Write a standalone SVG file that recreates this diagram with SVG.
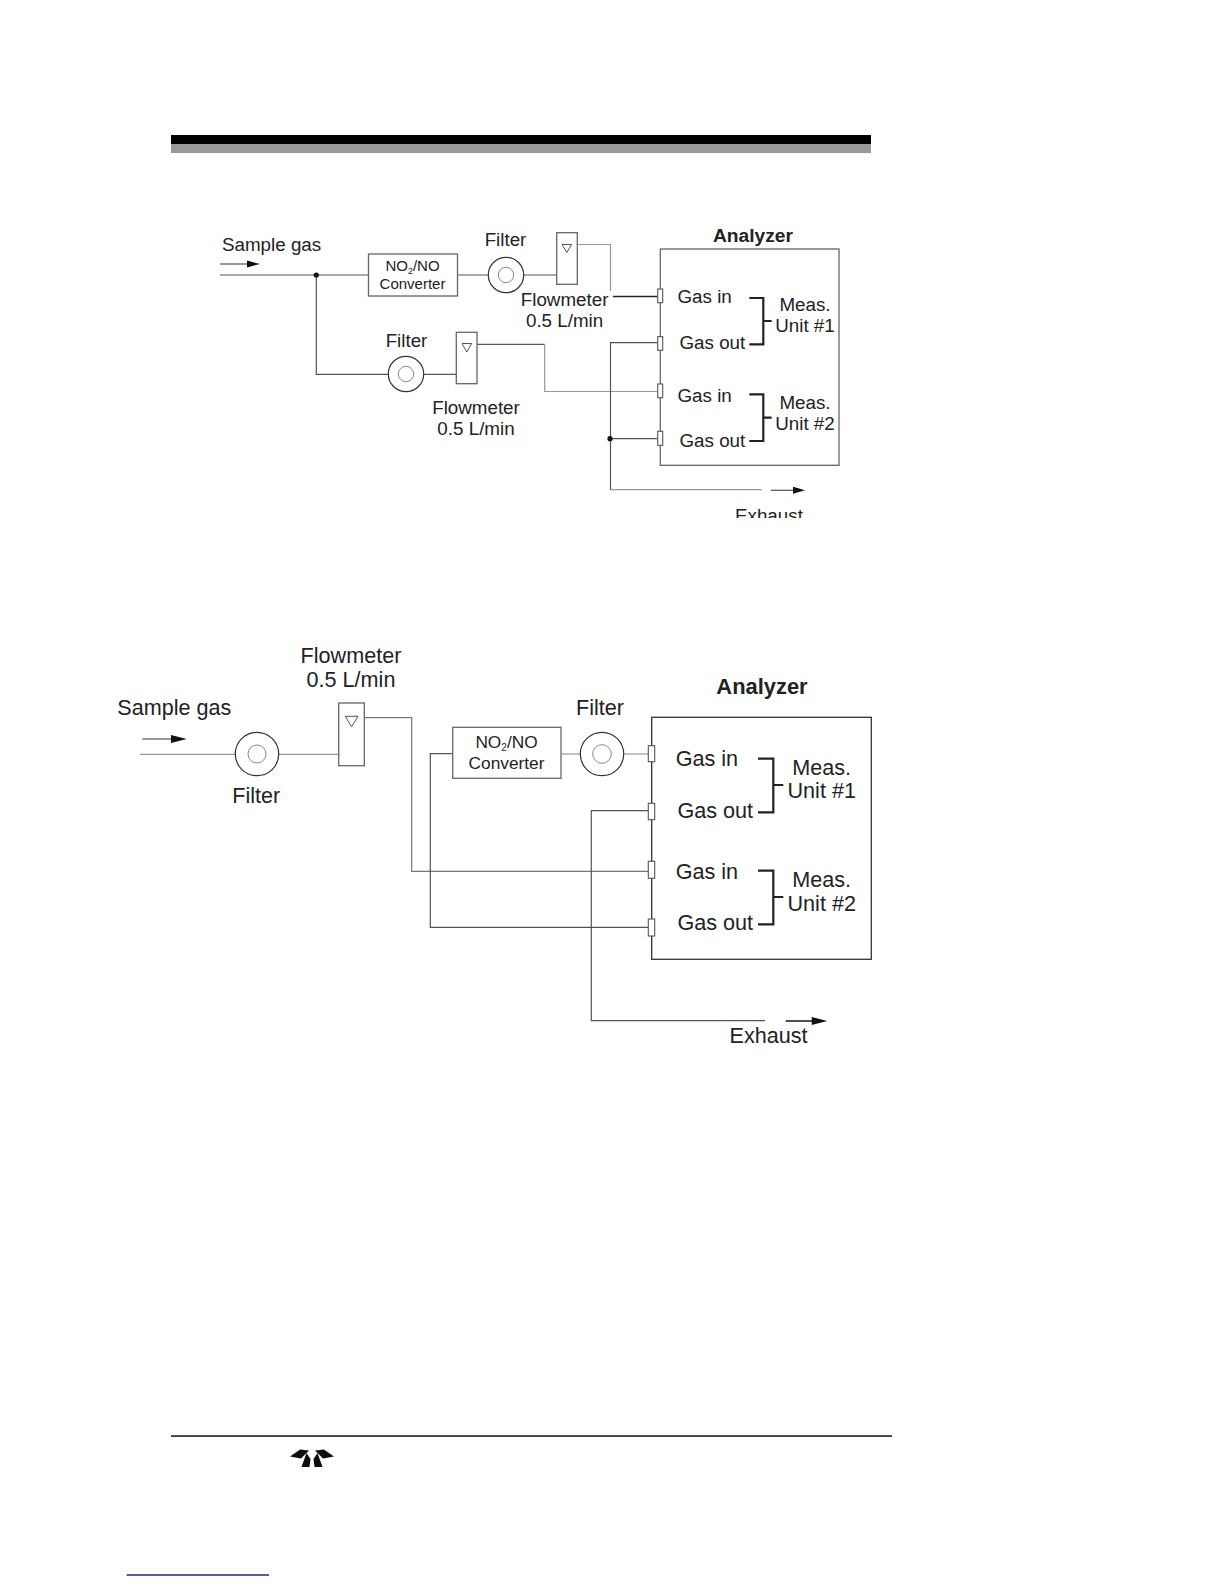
<svg xmlns="http://www.w3.org/2000/svg" width="1224" height="1584" viewBox="0 0 1224 1584">
<style>
text{font-family:"Liberation Sans",Arial,sans-serif;fill:#222}
.a{font-size:18.8px}.ac{font-size:18.8px;text-anchor:middle}.s{font-size:15px;text-anchor:middle}
.b{font-size:21.6px}.bc{font-size:21.6px;text-anchor:middle}.t{font-size:17.3px;text-anchor:middle}
.h{font-weight:bold;text-anchor:middle}
.box{fill:#fff;stroke:#666;stroke-width:1.3}
.thin{fill:none;stroke:#555;stroke-width:1.2}
.mid{fill:none;stroke:#777;stroke-width:1.2}
.lt{fill:none;stroke:#999;stroke-width:1.2}
.lt2{fill:none;stroke:#aaa;stroke-width:1.8}
.dk{fill:none;stroke:#222;stroke-width:1.6}
.br{fill:none;stroke:#222;stroke-width:2.2}
.fo{fill:#fff;stroke:#333;stroke-width:1.2}
.fi{fill:#fff;stroke:#888;stroke-width:1}
.tri{fill:#fff;stroke:#555;stroke-width:1}
.port{fill:#fff;stroke:#555;stroke-width:1.1}
.dot{fill:#111}
.head{fill:#111}
</style>
<defs>
<clipPath id="clipEx"><rect x="700" y="495" width="120" height="23"/></clipPath>
<filter id="soft"><feGaussianBlur stdDeviation="0.5"/></filter>
</defs>
<g id="header-bar">
<rect x="171" y="135" width="700" height="9" fill="#000"/>
<rect x="171" y="144" width="700" height="9" fill="#999"/>
</g>
<g id="connectors-top">
<path class="thin" d="M220 264H248"/><polygon class="head" points="247,260.5 260,264 247,267.5"/>
<path class="lt2" d="M220 275H368M458 275H488M524 275H557"/>
<path class="lt" d="M577 244.5H610.5V291"/>
<path class="dk" d="M613 296.5H657.5"/>
<path class="thin" d="M316.3 275V374.3H388M424 374.3H456.5M477 344.3H544.7"/>
<path class="lt" d="M544.7 344.3V391.5H657.5"/>
<path class="thin" d="M657.5 342.7H610.5V490M610.5 438.7H657.5"/>
<path class="lt" d="M610.5 489.7H761.7"/>
<path class="thin" d="M771 490.3H794"/><polygon class="head" points="793,486.8 805,490.3 793,493.8"/>
<circle class="dot" cx="316.3" cy="275" r="2.6"/>
<circle class="dot" cx="610" cy="438.7" r="2.6"/>
</g>
<g id="top-sample-label"><text class="a" x="222" y="251">Sample gas</text></g>
<g id="top-converter">
<rect class="box" x="368.5" y="254" width="89" height="42"/>
<text class="s" x="412.5" y="271">NO<tspan font-size="9" dy="3">2</tspan><tspan dy="-3">/NO</tspan></text>
<text class="s" x="412.5" y="288.7">Converter</text>
</g>
<g id="top-filter-1">
<circle class="fo" cx="506" cy="275" r="17.7"/><circle class="fi" cx="506" cy="275" r="7.7"/>
<text class="ac" x="505.5" y="246">Filter</text>
</g>
<g id="top-flowmeter-1">
<rect class="box" x="556.7" y="232.7" width="20.6" height="51.6"/>
<polygon class="tri" points="562,244.5 571.7,244.5 566.8,252.5"/>
<text class="ac" x="564.6" y="305.7">Flowmeter</text>
<text class="ac" x="564.6" y="326.7">0.5 L/min</text>
</g>
<g id="top-filter-2">
<circle class="fo" cx="406" cy="374" r="17.7"/><circle class="fi" cx="406" cy="374" r="7.7"/>
<text class="ac" x="406.5" y="347.3">Filter</text>
</g>
<g id="top-flowmeter-2">
<rect class="box" x="456.3" y="332.3" width="20.7" height="51.4"/>
<polygon class="tri" points="462,343.5 471.7,343.5 466.8,352"/>
<text class="ac" x="476" y="414">Flowmeter</text>
<text class="ac" x="476" y="435.3">0.5 L/min</text>
</g>
<g id="top-analyzer">
<rect class="box" x="660.3" y="249" width="178.7" height="216.3"/>
<text class="h" font-size="19.2" x="753" y="242.3">Analyzer</text>
<rect class="port" x="657.7" y="289" width="5" height="13.7"/>
<rect class="port" x="657.7" y="336.7" width="5" height="13.6"/>
<rect class="port" x="657.7" y="384" width="5" height="13.7"/>
<rect class="port" x="657.7" y="431.3" width="5" height="14"/>
<text class="a" x="677.5" y="303">Gas in</text>
<text class="a" x="679.5" y="349">Gas out</text>
<text class="a" x="677.5" y="401.5">Gas in</text>
<text class="a" x="679.5" y="446.5">Gas out</text>
<path class="br" d="M749.3 298H763.3V344.3H749.3M763.3 321H771.7"/>
<path class="br" d="M749.3 394.3H763.3V441H749.3M763.3 417.7H771.7"/>
<text class="ac" x="805" y="311">Meas.</text>
<text class="ac" x="805" y="332">Unit #1</text>
<text class="ac" x="805" y="409">Meas.</text>
<text class="ac" x="805" y="430">Unit #2</text>
</g>
<g id="top-exhaust-label" clip-path="url(#clipEx)"><text class="a" x="735" y="521.5">Exhaust</text></g>

<g id="connectors-bottom">
<path class="thin" d="M142.3 739H172"/><polygon class="head" points="171,735 186.7,739 171,743"/>
<path class="lt" d="M140 754.3H235M279 754.3H338.7"/>
<path class="mid" d="M364 717.7H411.7V871.3H648.5"/>
<path class="thin" d="M452.7 753.7H430.3V927.3H648.5"/>
<path class="lt" d="M623.7 754H648.5"/>
<path class="thin" d="M648.5 810.7H591.3V1020.7H765"/>
<path class="dk" d="M785.7 1021H812.5"/><polygon class="head" points="811.7,1017 827.3,1021 811.7,1025"/>
</g>
<g id="bot-sample-label"><text class="b" x="117.3" y="714.8">Sample gas</text></g>
<g id="bot-filter-1">
<circle class="fo" cx="257" cy="754" r="21.7"/><circle class="fi" cx="257" cy="754" r="9"/>
<text class="bc" x="256.2" y="802.7">Filter</text>
</g>
<g id="bot-flowmeter">
<rect class="box" x="338.7" y="703" width="25.6" height="62.7"/>
<polygon class="tri" points="345.3,716.3 358,716.3 351.6,726.7"/>
<text class="bc" x="351" y="663">Flowmeter</text>
<text class="bc" x="351" y="687">0.5 L/min</text>
</g>
<g id="bot-converter">
<rect class="box" x="452.7" y="727.3" width="108.3" height="51"/>
<text class="t" x="506.5" y="747.7">NO<tspan font-size="10" dy="3">2</tspan><tspan dy="-3">/NO</tspan></text>
<text class="t" x="506.5" y="768.5">Converter</text>
</g>
<path class="lt" d="M561 754H580.3"/>
<g id="bot-filter-2">
<circle class="fo" cx="602" cy="754" r="21.7"/><circle class="fi" cx="602" cy="754" r="9.3"/>
<text class="bc" x="600" y="715">Filter</text>
</g>
<g id="bot-analyzer">
<rect fill="#fff" stroke="#333" stroke-width="1.3" x="651.7" y="717.3" width="219.6" height="242"/>
<text class="h" font-size="21.9" x="762" y="694.3">Analyzer</text>
<rect class="port" x="648.3" y="745.7" width="6.4" height="16"/>
<rect class="port" x="648.3" y="803.3" width="6.4" height="16.4"/>
<rect class="port" x="648.3" y="861.3" width="6.4" height="17"/>
<rect class="port" x="648.3" y="919" width="6.4" height="17"/>
<text class="b" x="675.7" y="765.5">Gas in</text>
<text class="b" x="677.5" y="818">Gas out</text>
<text class="b" x="675.7" y="878.8">Gas in</text>
<text class="b" x="677.5" y="930">Gas out</text>
<path class="br" d="M758 758.7H773.3V812.3H758M773.3 785H783.3"/>
<path class="br" d="M758 870.7H773.3V924.3H758M773.3 897H783.3"/>
<text class="bc" x="821.7" y="775">Meas.</text>
<text class="bc" x="821.7" y="798.3">Unit #1</text>
<text class="bc" x="821.7" y="887.3">Meas.</text>
<text class="bc" x="821.7" y="910.7">Unit #2</text>
</g>
<g id="bot-exhaust-label"><text class="b" x="729.5" y="1043">Exhaust</text></g>
<g id="footer">
<rect x="171" y="1435.3" width="721" height="1.5" fill="#111"/>
<rect x="126.7" y="1574.3" width="142.3" height="1.4" fill="#14147a"/>
<g id="logo" filter="url(#soft)" fill="#111">
<polygon points="290,1456.5 300,1449.5 309,1450.5 301,1458.5"/>
<polygon points="301.5,1467 306.5,1453 310.5,1459 309.5,1467"/>
<polygon points="322.5,1467 317.5,1453 313.5,1459 314.5,1467"/>
<polygon points="334,1456.5 324,1449.5 315,1450.5 323,1458.5"/>
</g>
</g>
</svg>
